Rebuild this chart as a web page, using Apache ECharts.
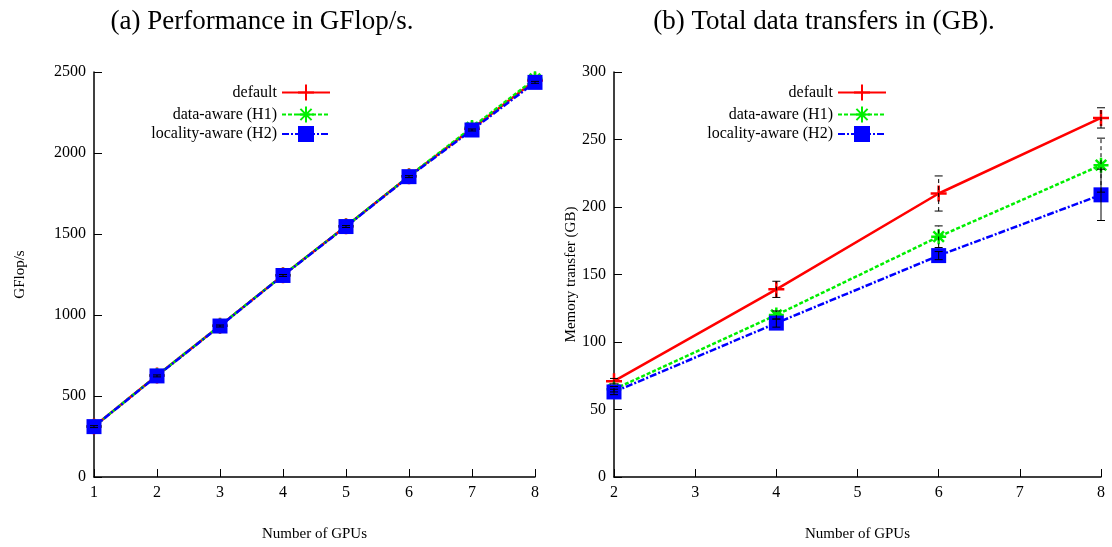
<!DOCTYPE html>
<html>
<head>
<meta charset="utf-8">
<script src="https://cdn.jsdelivr.net/npm/echarts@6/dist/echarts.min.js"></script>
<style>
  html, body { margin: 0; padding: 0; background: #fff; }
  #chart { width: 1112px; height: 547px; }
</style>
</head>
<body>
<div id="chart"></div>
<script>
// Panel (a): throughput per GPU count
const gpusA = [1, 2, 3, 4, 5, 6, 7, 8];
const perfDefault = [312, 626, 934, 1246, 1548, 1857, 2150, 2448];
const perfH1      = [312, 626, 934, 1246, 1548, 1857, 2158, 2458];
const perfH2      = [311, 624, 932, 1244, 1546, 1854, 2142, 2436];
const perfErr     = [6, 6, 6, 6, 6, 6, 6, 6];

// Panel (b): total memory transfers per GPU count
const gpusB = [2, 4, 6, 8];
const memDefault = [71, 139, 210, 266];
const memH1      = [65, 120, 178, 231];
const memH2      = [63, 114, 164, 209];
const memErrDefault = [2, 6, 13, 7.5];
const memErrH1      = [2, 3, 8, 20];
const memErrH2      = [2, 3, 3, 19];

const names = ['default', 'data-aware (H1)', 'locality-aware (H2)'];
const colors = ['#ff0000', '#00ee00', '#0000ff'];
const dashes = ['solid', [4, 2], [7, 2, 2, 2]];

const plusPath = 'path://M0,5L10,5M5,0L5,10';
const starPath = 'path://M0,5L10,5M5,0L5,10M1.5,1.5L8.5,8.5M8.5,1.5L1.5,8.5';
const squarePath = 'path://M0,0L10,0L10,10L0,10Z';

const serif = 'Liberation Serif';

function pairs(xs, ys) { return xs.map((x, i) => [x, ys[i]]); }
function errPairs(xs, ys, es) { return xs.map((x, i) => [x, ys[i] - es[i], ys[i] + es[i]]); }

function lineSeries(idx, xs, ys, gi) {
  const marker = [
    { symbol: plusPath, symbolSize: 16, itemStyle: { color: 'none', borderColor: colors[0], borderWidth: 2.5 } },
    { symbol: starPath, symbolSize: 15, itemStyle: { color: 'none', borderColor: colors[1], borderWidth: 2.5 } },
    { symbol: squarePath, symbolSize: 15, itemStyle: { color: colors[2], borderColor: colors[2], borderWidth: 0 } }
  ][idx];
  return {
    type: 'line',
    name: names[idx],
    xAxisIndex: gi, yAxisIndex: gi,
    data: pairs(xs, ys),
    symbol: marker.symbol,
    symbolSize: marker.symbolSize,
    showAllSymbol: true,
    clip: false,
    itemStyle: marker.itemStyle,
    lineStyle: { color: colors[idx], width: 2.5, type: dashes[idx] },
    emphasis: { disabled: true },
    animation: false,
    z: 3 + idx
  };
}

function errorSeries(xs, ys, es, gi, dashed) {
  return {
    type: 'custom',
    xAxisIndex: gi, yAxisIndex: gi,
    data: errPairs(xs, ys, es),
    animation: false,
    clip: false,
    z: 10,
    renderItem: function (params, api) {
      const x = api.value(0);
      const lo = api.coord([x, api.value(1)]);
      const hi = api.coord([x, api.value(2)]);
      const cap = 4;
      const style = { stroke: '#000', lineWidth: 1, lineDash: dashed ? [4, 3] : null, fill: null };
      return {
        type: 'group',
        children: [
          { type: 'line', shape: { x1: lo[0], y1: lo[1], x2: hi[0], y2: hi[1] }, style: style },
          { type: 'line', shape: { x1: lo[0] - cap, y1: lo[1], x2: lo[0] + cap, y2: lo[1] }, style: { stroke: '#000', lineWidth: 1 } },
          { type: 'line', shape: { x1: hi[0] - cap, y1: hi[1], x2: hi[0] + cap, y2: hi[1] }, style: { stroke: '#000', lineWidth: 1 } }
        ]
      };
    }
  };
}

const axisCommon = {
  axisLine: { show: true, lineStyle: { color: '#000', width: 1.5 } },
  axisTick: { show: true, inside: true, length: 8, lineStyle: { color: '#000', width: 1 } },
  axisLabel: { color: '#000', fontFamily: serif, fontSize: 16, formatter: v => String(v) },
  splitLine: { show: false },
  nameLocation: 'middle',
  nameTextStyle: { color: '#000', fontFamily: serif, fontSize: 15 }
};

const legendCommon = {
  orient: 'vertical',
  align: 'right',
  top: 77,
  itemWidth: 48,
  itemHeight: 20,
  itemGap: 1,
  textStyle: { color: '#000', fontFamily: serif, fontSize: 16 },
  data: names,
  selectedMode: false
};

const chart = echarts.init(document.getElementById('chart'), null, { renderer: 'canvas' });
chart.setOption({
  backgroundColor: '#fff',
  animation: false,
  title: [
    { text: '(a) Performance in GFlop/s.', left: 257, top: 3, textAlign: 'center',
      textStyle: { fontFamily: serif, fontSize: 27, fontWeight: 'normal', color: '#000' } },
    { text: '(b) Total data transfers in (GB).', left: 819, top: 3, textAlign: 'center',
      textStyle: { fontFamily: serif, fontSize: 27, fontWeight: 'normal', color: '#000' } }
  ],
  legend: [
    Object.assign({ right: 776 }, legendCommon),
    Object.assign({ right: 220 }, legendCommon)
  ],
  grid: [
    { left: 94, right: 577, top: 72, bottom: 68 },
    { left: 614, right: 11, top: 72, bottom: 68 }
  ],
  xAxis: [
    Object.assign({}, axisCommon, { type: 'value', gridIndex: 0, min: 1, max: 8, interval: 1,
      name: 'Number of GPUs', nameGap: 50 }),
    Object.assign({}, axisCommon, { type: 'value', gridIndex: 1, min: 2, max: 8, interval: 1,
      name: 'Number of GPUs', nameGap: 50 })
  ],
  yAxis: [
    Object.assign({}, axisCommon, { type: 'value', gridIndex: 0, min: 0, max: 2500, interval: 500,
      name: 'GFlop/s', nameGap: 66 }),
    Object.assign({}, axisCommon, { type: 'value', gridIndex: 1, min: 0, max: 300, interval: 50,
      name: 'Memory transfer (GB)', nameGap: 24 })
  ],
  series: [
    lineSeries(0, gpusA, perfDefault, 0),
    lineSeries(1, gpusA, perfH1, 0),
    lineSeries(2, gpusA, perfH2, 0),
    errorSeries(gpusA, perfH2, perfErr, 0, false),
    lineSeries(0, gpusB, memDefault, 1),
    lineSeries(1, gpusB, memH1, 1),
    lineSeries(2, gpusB, memH2, 1),
    errorSeries(gpusB, memDefault, memErrDefault, 1, true),
    errorSeries(gpusB, memH1, memErrH1, 1, true),
    errorSeries(gpusB, memH2, memErrH2, 1, false)
  ]
});
</script>
</body>
</html>
